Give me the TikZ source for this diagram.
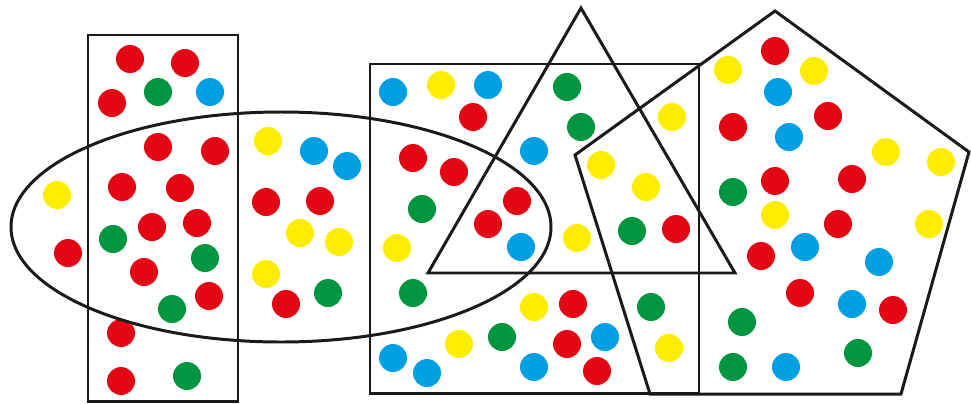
\documentclass[tikz,border=0pt]{standalone}
\usepackage{tikz}
\definecolor{dotred}{HTML}{E30613}
\definecolor{dotgreen}{HTML}{009640}
\definecolor{dotblue}{HTML}{009FE3}
\definecolor{dotyellow}{HTML}{FFED00}
\definecolor{linecolor}{HTML}{1A1A1A}

\begin{document}
\begin{tikzpicture}[
    x=0.02cm, y=-0.02cm,
    outline/.style={draw=linecolor, line width=1.7pt, line join=miter},
    dot/.style={fill=#1}
]
  \useasboundingbox (0,0) rectangle (971,403);

  % 1. Red dots
  \path[dot=dotred]
    (130,59) circle (14) (185,63) circle (14) (112,103) circle (14)
    (158,147) circle (14) (215,151) circle (14) (122,187) circle (14)
    (180,188) circle (14) (152,227) circle (14) (197,223) circle (14)
    (68,253) circle (14) (144,272) circle (14) (209,296) circle (14)
    (121,333) circle (14) (121,381) circle (14)
    (266,202) circle (14) (320,201) circle (14) (286,304) circle (14)
    (473,117) circle (14) (413,158) circle (14) (454,172) circle (14)
    (517,201) circle (14) (488,224) circle (14) (676,229) circle (14)
    (573,304) circle (14) (567,344) circle (14) (597,371) circle (14)
    (775,51) circle (14) (733,127) circle (14) (828,116) circle (14)
    (775,181) circle (14) (852,179) circle (14) (838,224) circle (14)
    (761,256) circle (14) (800,293) circle (14) (893,310) circle (14);

  % 2. Green dots
  \path[dot=dotgreen]
    (158,92) circle (14) (113,239) circle (14) (205,258) circle (14)
    (172,309) circle (14) (187,376) circle (14) (328,293) circle (14)
    (422,209) circle (14) (413,293) circle (14) (567,87) circle (14)
    (581,127) circle (14) (632,231) circle (14) (502,337) circle (14)
    (651,307) circle (14) (733,192) circle (14) (742,322) circle (14)
    (858,353) circle (14) (733,367) circle (14);

  % 3. Blue dots
  \path[dot=dotblue]
    (210,92) circle (14) (314,151) circle (14) (347,166) circle (14)
    (393,92) circle (14) (488,85) circle (14) (534,151) circle (14)
    (521,247) circle (14) (605,337) circle (14) (534,367) circle (14)
    (393,358) circle (14) (427,373) circle (14) (778,92) circle (14)
    (789,137) circle (14) (805,247) circle (14) (879,262) circle (14)
    (852,304) circle (14) (786,367) circle (14);

  % 4. Yellow dots
  \path[dot=dotyellow]
    (57,195) circle (14) (268,141) circle (14) (300,233) circle (14)
    (339,242) circle (14) (266,274) circle (14) (441,85) circle (14)
    (397,248) circle (14) (459,344) circle (14) (672,117) circle (14)
    (601,165) circle (14) (646,187) circle (14) (577,238) circle (14)
    (534,307) circle (14) (669,348) circle (14) (728,70) circle (14)
    (814,71) circle (14) (886,152) circle (14) (941,162) circle (14)
    (775,215) circle (14) (929,224) circle (14);

  % 5. Outlines
  % Tall rectangle
  \path[outline] (88,35) rectangle (238,401);
  % Ellipse
  \path[outline] (281,227) ellipse (270 and 115);
  % Wide rectangle
  \path[outline] (370,64) rectangle (699,393);
  % Triangle
  \path[outline] (428,273) -- (581,8) -- (735,273) -- cycle;
  % Pentagon
  \path[outline] (775,11) -- (969,152) -- (901,394) -- (650,394) -- (575,155) -- cycle;

\end{tikzpicture}
\end{document}
